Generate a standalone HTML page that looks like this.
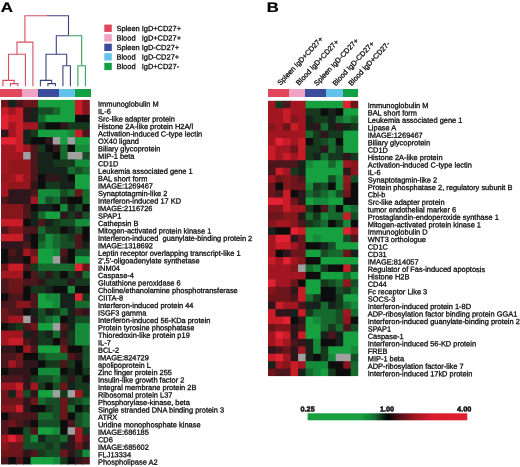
<!DOCTYPE html>
<html><head><meta charset="utf-8"><title>Figure</title>
<style>
html,body{margin:0;padding:0;background:#fff}
svg{display:block}
text{font-family:"Liberation Sans",sans-serif;text-rendering:geometricPrecision;fill:#0a0a0a;stroke:#0a0a0a;stroke-width:0.28px}
.l{font-size:7.45px}
.g{font-size:7.45px}
.s{font-size:7.3px;font-weight:bold;stroke-width:0.45px}
.p{font-size:13.9px;font-weight:bold;fill:#000;stroke-width:0.2px}
</style></head><body>
<svg width="520" height="467" viewBox="0 0 520 467">
<defs><filter id="bl" x="-2%" y="-2%" width="104%" height="104%"><feGaussianBlur stdDeviation="0.55"/></filter>
<linearGradient id="sc" x1="0" x2="1" y1="0" y2="0"><stop offset="0" stop-color="#18a040"/><stop offset="0.33" stop-color="#18a040"/><stop offset="0.42" stop-color="#13702e"/><stop offset="0.47" stop-color="#0c2a14"/><stop offset="0.495" stop-color="#060606"/><stop offset="0.51" stop-color="#060606"/><stop offset="0.58" stop-color="#5a1018"/><stop offset="0.68" stop-color="#a01822"/><stop offset="0.78" stop-color="#d81c2c"/><stop offset="1" stop-color="#e02030"/></linearGradient></defs>
<rect width="520" height="467" fill="#fff"/>
<g filter="url(#bl)">
<g><rect x="1.00" y="99.90" width="8.40" height="8.44" fill="#6c141c"/><rect x="8.40" y="99.90" width="8.40" height="8.44" fill="#18241a"/><rect x="15.80" y="99.90" width="8.40" height="8.44" fill="#4c141a"/><rect x="23.20" y="99.90" width="15.80" height="8.44" fill="#6c141c"/><rect x="38.00" y="99.90" width="38.00" height="8.44" fill="#18a040"/><rect x="75.00" y="99.90" width="8.40" height="8.44" fill="#c81c28"/><rect x="82.40" y="99.90" width="7.40" height="8.44" fill="#84161e"/><rect x="1.00" y="107.34" width="8.40" height="8.44" fill="#c81c28"/><rect x="8.40" y="107.34" width="8.40" height="8.44" fill="#a21822"/><rect x="15.80" y="107.34" width="8.40" height="8.44" fill="#c81c28"/><rect x="23.20" y="107.34" width="8.40" height="8.44" fill="#2e181a"/><rect x="30.60" y="107.34" width="8.40" height="8.44" fill="#18241a"/><rect x="38.00" y="107.34" width="15.80" height="8.44" fill="#144e26"/><rect x="52.80" y="107.34" width="8.40" height="8.44" fill="#166a2e"/><rect x="60.20" y="107.34" width="15.80" height="8.44" fill="#18a040"/><rect x="75.00" y="107.34" width="8.40" height="8.44" fill="#c81c28"/><rect x="82.40" y="107.34" width="7.40" height="8.44" fill="#84161e"/><rect x="1.00" y="114.78" width="8.40" height="8.44" fill="#e02030"/><rect x="8.40" y="114.78" width="15.80" height="8.44" fill="#c81c28"/><rect x="23.20" y="114.78" width="8.40" height="8.44" fill="#2e181a"/><rect x="30.60" y="114.78" width="8.40" height="8.44" fill="#18241a"/><rect x="38.00" y="114.78" width="8.40" height="8.44" fill="#166a2e"/><rect x="45.40" y="114.78" width="30.60" height="8.44" fill="#18a040"/><rect x="75.00" y="114.78" width="14.80" height="8.44" fill="#101010"/><rect x="1.00" y="122.22" width="8.40" height="8.44" fill="#e02030"/><rect x="8.40" y="122.22" width="8.40" height="8.44" fill="#a21822"/><rect x="15.80" y="122.22" width="8.40" height="8.44" fill="#c81c28"/><rect x="23.20" y="122.22" width="15.80" height="8.44" fill="#a21822"/><rect x="38.00" y="122.22" width="8.40" height="8.44" fill="#13391d"/><rect x="45.40" y="122.22" width="15.80" height="8.44" fill="#101010"/><rect x="60.20" y="122.22" width="8.40" height="8.44" fill="#2e181a"/><rect x="67.60" y="122.22" width="22.20" height="8.44" fill="#13391d"/><rect x="1.00" y="129.66" width="8.40" height="8.44" fill="#2e181a"/><rect x="8.40" y="129.66" width="8.40" height="8.44" fill="#a21822"/><rect x="15.80" y="129.66" width="8.40" height="8.44" fill="#c81c28"/><rect x="23.20" y="129.66" width="8.40" height="8.44" fill="#18241a"/><rect x="30.60" y="129.66" width="8.40" height="8.44" fill="#13391d"/><rect x="38.00" y="129.66" width="30.60" height="8.44" fill="#18a040"/><rect x="67.60" y="129.66" width="8.40" height="8.44" fill="#188a3a"/><rect x="75.00" y="129.66" width="8.40" height="8.44" fill="#c81c28"/><rect x="82.40" y="129.66" width="7.40" height="8.44" fill="#4c141a"/><rect x="1.00" y="137.10" width="15.80" height="8.44" fill="#e02030"/><rect x="15.80" y="137.10" width="8.40" height="8.44" fill="#c81c28"/><rect x="23.20" y="137.10" width="8.40" height="8.44" fill="#18241a"/><rect x="30.60" y="137.10" width="15.80" height="8.44" fill="#101010"/><rect x="45.40" y="137.10" width="8.40" height="8.44" fill="#2e181a"/><rect x="52.80" y="137.10" width="8.40" height="8.44" fill="#a0a0a0"/><rect x="60.20" y="137.10" width="8.40" height="8.44" fill="#18a040"/><rect x="67.60" y="137.10" width="8.40" height="8.44" fill="#a0a0a0"/><rect x="75.00" y="137.10" width="14.80" height="8.44" fill="#18a040"/><rect x="1.00" y="144.54" width="15.80" height="8.44" fill="#a21822"/><rect x="15.80" y="144.54" width="8.40" height="8.44" fill="#c81c28"/><rect x="23.20" y="144.54" width="8.40" height="8.44" fill="#a21822"/><rect x="30.60" y="144.54" width="8.40" height="8.44" fill="#4c141a"/><rect x="38.00" y="144.54" width="8.40" height="8.44" fill="#13391d"/><rect x="45.40" y="144.54" width="8.40" height="8.44" fill="#101010"/><rect x="52.80" y="144.54" width="8.40" height="8.44" fill="#2e181a"/><rect x="60.20" y="144.54" width="8.40" height="8.44" fill="#166a2e"/><rect x="67.60" y="144.54" width="8.40" height="8.44" fill="#101010"/><rect x="75.00" y="144.54" width="14.80" height="8.44" fill="#188a3a"/><rect x="1.00" y="151.98" width="23.20" height="8.44" fill="#a21822"/><rect x="23.20" y="151.98" width="8.40" height="8.44" fill="#a0a0a0"/><rect x="30.60" y="151.98" width="8.40" height="8.44" fill="#4c141a"/><rect x="38.00" y="151.98" width="15.80" height="8.44" fill="#18241a"/><rect x="52.80" y="151.98" width="8.40" height="8.44" fill="#101010"/><rect x="60.20" y="151.98" width="8.40" height="8.44" fill="#166a2e"/><rect x="67.60" y="151.98" width="15.80" height="8.44" fill="#a0a0a0"/><rect x="82.40" y="151.98" width="7.40" height="8.44" fill="#144e26"/><rect x="1.00" y="159.42" width="8.40" height="8.44" fill="#a21822"/><rect x="8.40" y="159.42" width="23.20" height="8.44" fill="#93171f"/><rect x="30.60" y="159.42" width="8.40" height="8.44" fill="#4c141a"/><rect x="38.00" y="159.42" width="15.80" height="8.44" fill="#18241a"/><rect x="52.80" y="159.42" width="23.20" height="8.44" fill="#13391d"/><rect x="75.00" y="159.42" width="14.80" height="8.44" fill="#188a3a"/><rect x="1.00" y="166.86" width="8.40" height="8.44" fill="#a21822"/><rect x="8.40" y="166.86" width="23.20" height="8.44" fill="#93171f"/><rect x="30.60" y="166.86" width="8.40" height="8.44" fill="#4c141a"/><rect x="38.00" y="166.86" width="30.60" height="8.44" fill="#18241a"/><rect x="67.60" y="166.86" width="8.40" height="8.44" fill="#166a2e"/><rect x="75.00" y="166.86" width="8.40" height="8.44" fill="#144e26"/><rect x="82.40" y="166.86" width="7.40" height="8.44" fill="#166a2e"/><rect x="1.00" y="174.30" width="8.40" height="8.44" fill="#93171f"/><rect x="8.40" y="174.30" width="8.40" height="8.44" fill="#a21822"/><rect x="15.80" y="174.30" width="8.40" height="8.44" fill="#c81c28"/><rect x="23.20" y="174.30" width="8.40" height="8.44" fill="#93171f"/><rect x="30.60" y="174.30" width="8.40" height="8.44" fill="#4c141a"/><rect x="38.00" y="174.30" width="8.40" height="8.44" fill="#101010"/><rect x="45.40" y="174.30" width="15.80" height="8.44" fill="#2e181a"/><rect x="60.20" y="174.30" width="8.40" height="8.44" fill="#18241a"/><rect x="67.60" y="174.30" width="8.40" height="8.44" fill="#101010"/><rect x="75.00" y="174.30" width="14.80" height="8.44" fill="#18a040"/><rect x="1.00" y="181.74" width="8.40" height="8.44" fill="#a21822"/><rect x="8.40" y="181.74" width="23.20" height="8.44" fill="#93171f"/><rect x="30.60" y="181.74" width="8.40" height="8.44" fill="#2e181a"/><rect x="38.00" y="181.74" width="8.40" height="8.44" fill="#101010"/><rect x="45.40" y="181.74" width="15.80" height="8.44" fill="#13391d"/><rect x="60.20" y="181.74" width="15.80" height="8.44" fill="#18241a"/><rect x="75.00" y="181.74" width="14.80" height="8.44" fill="#18a040"/><rect x="1.00" y="189.18" width="8.40" height="8.44" fill="#a21822"/><rect x="8.40" y="189.18" width="23.20" height="8.44" fill="#2e181a"/><rect x="30.60" y="189.18" width="8.40" height="8.44" fill="#4c141a"/><rect x="38.00" y="189.18" width="23.20" height="8.44" fill="#188a3a"/><rect x="60.20" y="189.18" width="8.40" height="8.44" fill="#144e26"/><rect x="67.60" y="189.18" width="8.40" height="8.44" fill="#166a2e"/><rect x="75.00" y="189.18" width="8.40" height="8.44" fill="#6c141c"/><rect x="82.40" y="189.18" width="7.40" height="8.44" fill="#166a2e"/><rect x="1.00" y="196.62" width="8.40" height="8.44" fill="#4c141a"/><rect x="8.40" y="196.62" width="23.20" height="8.44" fill="#2e181a"/><rect x="30.60" y="196.62" width="8.40" height="8.44" fill="#a21822"/><rect x="38.00" y="196.62" width="8.40" height="8.44" fill="#188a3a"/><rect x="45.40" y="196.62" width="8.40" height="8.44" fill="#144e26"/><rect x="52.80" y="196.62" width="8.40" height="8.44" fill="#166a2e"/><rect x="60.20" y="196.62" width="8.40" height="8.44" fill="#18241a"/><rect x="67.60" y="196.62" width="15.80" height="8.44" fill="#101010"/><rect x="82.40" y="196.62" width="7.40" height="8.44" fill="#166a2e"/><rect x="1.00" y="204.06" width="23.20" height="8.44" fill="#84161e"/><rect x="23.20" y="204.06" width="8.40" height="8.44" fill="#4c141a"/><rect x="30.60" y="204.06" width="8.40" height="8.44" fill="#101010"/><rect x="38.00" y="204.06" width="15.80" height="8.44" fill="#18241a"/><rect x="52.80" y="204.06" width="8.40" height="8.44" fill="#101010"/><rect x="60.20" y="204.06" width="8.40" height="8.44" fill="#188a3a"/><rect x="67.60" y="204.06" width="8.40" height="8.44" fill="#18241a"/><rect x="75.00" y="204.06" width="8.40" height="8.44" fill="#144e26"/><rect x="82.40" y="204.06" width="7.40" height="8.44" fill="#101010"/><rect x="1.00" y="211.50" width="23.20" height="8.44" fill="#84161e"/><rect x="23.20" y="211.50" width="8.40" height="8.44" fill="#4c141a"/><rect x="30.60" y="211.50" width="8.40" height="8.44" fill="#18241a"/><rect x="38.00" y="211.50" width="8.40" height="8.44" fill="#166a2e"/><rect x="45.40" y="211.50" width="15.80" height="8.44" fill="#18a040"/><rect x="60.20" y="211.50" width="8.40" height="8.44" fill="#2e181a"/><rect x="67.60" y="211.50" width="8.40" height="8.44" fill="#13391d"/><rect x="75.00" y="211.50" width="8.40" height="8.44" fill="#2e181a"/><rect x="82.40" y="211.50" width="7.40" height="8.44" fill="#144e26"/><rect x="1.00" y="218.94" width="23.20" height="8.44" fill="#c81c28"/><rect x="23.20" y="218.94" width="8.40" height="8.44" fill="#101010"/><rect x="30.60" y="218.94" width="8.40" height="8.44" fill="#18241a"/><rect x="38.00" y="218.94" width="8.40" height="8.44" fill="#4c141a"/><rect x="45.40" y="218.94" width="8.40" height="8.44" fill="#18241a"/><rect x="52.80" y="218.94" width="8.40" height="8.44" fill="#13391d"/><rect x="60.20" y="218.94" width="15.80" height="8.44" fill="#144e26"/><rect x="75.00" y="218.94" width="14.80" height="8.44" fill="#188a3a"/><rect x="1.00" y="226.38" width="8.40" height="8.44" fill="#4c141a"/><rect x="8.40" y="226.38" width="15.80" height="8.44" fill="#84161e"/><rect x="23.20" y="226.38" width="15.80" height="8.44" fill="#4c141a"/><rect x="38.00" y="226.38" width="8.40" height="8.44" fill="#166a2e"/><rect x="45.40" y="226.38" width="15.80" height="8.44" fill="#13391d"/><rect x="60.20" y="226.38" width="8.40" height="8.44" fill="#101010"/><rect x="67.60" y="226.38" width="8.40" height="8.44" fill="#18241a"/><rect x="75.00" y="226.38" width="8.40" height="8.44" fill="#144e26"/><rect x="82.40" y="226.38" width="7.40" height="8.44" fill="#101010"/><rect x="1.00" y="233.82" width="23.20" height="8.44" fill="#c81c28"/><rect x="23.20" y="233.82" width="8.40" height="8.44" fill="#2e181a"/><rect x="30.60" y="233.82" width="8.40" height="8.44" fill="#101010"/><rect x="38.00" y="233.82" width="8.40" height="8.44" fill="#144e26"/><rect x="45.40" y="233.82" width="8.40" height="8.44" fill="#188a3a"/><rect x="52.80" y="233.82" width="8.40" height="8.44" fill="#166a2e"/><rect x="60.20" y="233.82" width="8.40" height="8.44" fill="#144e26"/><rect x="67.60" y="233.82" width="8.40" height="8.44" fill="#13391d"/><rect x="75.00" y="233.82" width="8.40" height="8.44" fill="#4c141a"/><rect x="82.40" y="233.82" width="7.40" height="8.44" fill="#101010"/><rect x="1.00" y="241.26" width="23.20" height="8.44" fill="#2e181a"/><rect x="23.20" y="241.26" width="8.40" height="8.44" fill="#4c141a"/><rect x="30.60" y="241.26" width="8.40" height="8.44" fill="#101010"/><rect x="38.00" y="241.26" width="8.40" height="8.44" fill="#166a2e"/><rect x="45.40" y="241.26" width="8.40" height="8.44" fill="#188a3a"/><rect x="52.80" y="241.26" width="8.40" height="8.44" fill="#166a2e"/><rect x="60.20" y="241.26" width="15.80" height="8.44" fill="#144e26"/><rect x="75.00" y="241.26" width="8.40" height="8.44" fill="#4c141a"/><rect x="82.40" y="241.26" width="7.40" height="8.44" fill="#18241a"/><rect x="1.00" y="248.70" width="8.40" height="8.44" fill="#101010"/><rect x="8.40" y="248.70" width="8.40" height="8.44" fill="#4c141a"/><rect x="15.80" y="248.70" width="8.40" height="8.44" fill="#2e181a"/><rect x="23.20" y="248.70" width="8.40" height="8.44" fill="#a21822"/><rect x="30.60" y="248.70" width="8.40" height="8.44" fill="#6c141c"/><rect x="38.00" y="248.70" width="15.80" height="8.44" fill="#18a040"/><rect x="52.80" y="248.70" width="8.40" height="8.44" fill="#188a3a"/><rect x="60.20" y="248.70" width="8.40" height="8.44" fill="#4c141a"/><rect x="67.60" y="248.70" width="8.40" height="8.44" fill="#101010"/><rect x="75.00" y="248.70" width="14.80" height="8.44" fill="#144e26"/><rect x="1.00" y="256.14" width="8.40" height="8.44" fill="#101010"/><rect x="8.40" y="256.14" width="15.80" height="8.44" fill="#2e181a"/><rect x="23.20" y="256.14" width="8.40" height="8.44" fill="#101010"/><rect x="30.60" y="256.14" width="8.40" height="8.44" fill="#a21822"/><rect x="38.00" y="256.14" width="15.80" height="8.44" fill="#18a040"/><rect x="52.80" y="256.14" width="8.40" height="8.44" fill="#a0a0a0"/><rect x="60.20" y="256.14" width="8.40" height="8.44" fill="#2e181a"/><rect x="67.60" y="256.14" width="8.40" height="8.44" fill="#101010"/><rect x="75.00" y="256.14" width="14.80" height="8.44" fill="#18a040"/><rect x="1.00" y="263.58" width="8.40" height="8.44" fill="#6c141c"/><rect x="8.40" y="263.58" width="15.80" height="8.44" fill="#c81c28"/><rect x="23.20" y="263.58" width="8.40" height="8.44" fill="#4c141a"/><rect x="30.60" y="263.58" width="8.40" height="8.44" fill="#13391d"/><rect x="38.00" y="263.58" width="38.00" height="8.44" fill="#166a2e"/><rect x="75.00" y="263.58" width="8.40" height="8.44" fill="#e02030"/><rect x="82.40" y="263.58" width="7.40" height="8.44" fill="#6c141c"/><rect x="1.00" y="271.02" width="23.20" height="8.44" fill="#a21822"/><rect x="23.20" y="271.02" width="8.40" height="8.44" fill="#101010"/><rect x="30.60" y="271.02" width="8.40" height="8.44" fill="#4c141a"/><rect x="38.00" y="271.02" width="8.40" height="8.44" fill="#13391d"/><rect x="45.40" y="271.02" width="8.40" height="8.44" fill="#2e181a"/><rect x="52.80" y="271.02" width="8.40" height="8.44" fill="#13391d"/><rect x="60.20" y="271.02" width="8.40" height="8.44" fill="#101010"/><rect x="67.60" y="271.02" width="8.40" height="8.44" fill="#13391d"/><rect x="75.00" y="271.02" width="8.40" height="8.44" fill="#2e181a"/><rect x="82.40" y="271.02" width="7.40" height="8.44" fill="#166a2e"/><rect x="1.00" y="278.46" width="8.40" height="8.44" fill="#4c141a"/><rect x="8.40" y="278.46" width="15.80" height="8.44" fill="#6c141c"/><rect x="23.20" y="278.46" width="15.80" height="8.44" fill="#4c141a"/><rect x="38.00" y="278.46" width="8.40" height="8.44" fill="#2e181a"/><rect x="45.40" y="278.46" width="23.20" height="8.44" fill="#13391d"/><rect x="67.60" y="278.46" width="8.40" height="8.44" fill="#2e181a"/><rect x="75.00" y="278.46" width="14.80" height="8.44" fill="#13391d"/><rect x="1.00" y="285.90" width="8.40" height="8.44" fill="#4c141a"/><rect x="8.40" y="285.90" width="15.80" height="8.44" fill="#6c141c"/><rect x="23.20" y="285.90" width="8.40" height="8.44" fill="#101010"/><rect x="30.60" y="285.90" width="15.80" height="8.44" fill="#13391d"/><rect x="45.40" y="285.90" width="8.40" height="8.44" fill="#18241a"/><rect x="52.80" y="285.90" width="15.80" height="8.44" fill="#101010"/><rect x="67.60" y="285.90" width="8.40" height="8.44" fill="#188a3a"/><rect x="75.00" y="285.90" width="14.80" height="8.44" fill="#101010"/><rect x="1.00" y="293.34" width="8.40" height="8.44" fill="#101010"/><rect x="8.40" y="293.34" width="15.80" height="8.44" fill="#4c141a"/><rect x="23.20" y="293.34" width="8.40" height="8.44" fill="#101010"/><rect x="30.60" y="293.34" width="8.40" height="8.44" fill="#4c141a"/><rect x="38.00" y="293.34" width="8.40" height="8.44" fill="#18a040"/><rect x="45.40" y="293.34" width="15.80" height="8.44" fill="#188a3a"/><rect x="60.20" y="293.34" width="15.80" height="8.44" fill="#18241a"/><rect x="75.00" y="293.34" width="8.40" height="8.44" fill="#e02030"/><rect x="82.40" y="293.34" width="7.40" height="8.44" fill="#13391d"/><rect x="1.00" y="300.78" width="15.80" height="8.44" fill="#4c141a"/><rect x="15.80" y="300.78" width="15.80" height="8.44" fill="#84161e"/><rect x="30.60" y="300.78" width="8.40" height="8.44" fill="#4c141a"/><rect x="38.00" y="300.78" width="15.80" height="8.44" fill="#18a040"/><rect x="52.80" y="300.78" width="8.40" height="8.44" fill="#188a3a"/><rect x="60.20" y="300.78" width="15.80" height="8.44" fill="#18241a"/><rect x="75.00" y="300.78" width="14.80" height="8.44" fill="#166a2e"/><rect x="1.00" y="308.22" width="8.40" height="8.44" fill="#6c141c"/><rect x="8.40" y="308.22" width="15.80" height="8.44" fill="#4c141a"/><rect x="23.20" y="308.22" width="8.40" height="8.44" fill="#101010"/><rect x="30.60" y="308.22" width="8.40" height="8.44" fill="#18241a"/><rect x="38.00" y="308.22" width="8.40" height="8.44" fill="#144e26"/><rect x="45.40" y="308.22" width="8.40" height="8.44" fill="#18241a"/><rect x="52.80" y="308.22" width="8.40" height="8.44" fill="#13391d"/><rect x="60.20" y="308.22" width="8.40" height="8.44" fill="#166a2e"/><rect x="67.60" y="308.22" width="8.40" height="8.44" fill="#18241a"/><rect x="75.00" y="308.22" width="8.40" height="8.44" fill="#4c141a"/><rect x="82.40" y="308.22" width="7.40" height="8.44" fill="#2e181a"/><rect x="1.00" y="315.66" width="8.40" height="8.44" fill="#6c141c"/><rect x="8.40" y="315.66" width="15.80" height="8.44" fill="#a21822"/><rect x="23.20" y="315.66" width="8.40" height="8.44" fill="#a0a0a0"/><rect x="30.60" y="315.66" width="8.40" height="8.44" fill="#2e181a"/><rect x="38.00" y="315.66" width="8.40" height="8.44" fill="#144e26"/><rect x="45.40" y="315.66" width="8.40" height="8.44" fill="#166a2e"/><rect x="52.80" y="315.66" width="8.40" height="8.44" fill="#188a3a"/><rect x="60.20" y="315.66" width="8.40" height="8.44" fill="#101010"/><rect x="67.60" y="315.66" width="8.40" height="8.44" fill="#18241a"/><rect x="75.00" y="315.66" width="14.80" height="8.44" fill="#144e26"/><rect x="1.00" y="323.10" width="8.40" height="8.44" fill="#101010"/><rect x="8.40" y="323.10" width="8.40" height="8.44" fill="#18241a"/><rect x="15.80" y="323.10" width="8.40" height="8.44" fill="#13391d"/><rect x="23.20" y="323.10" width="8.40" height="8.44" fill="#4c141a"/><rect x="30.60" y="323.10" width="8.40" height="8.44" fill="#6c141c"/><rect x="38.00" y="323.10" width="15.80" height="8.44" fill="#18a040"/><rect x="52.80" y="323.10" width="8.40" height="8.44" fill="#a0a0a0"/><rect x="60.20" y="323.10" width="8.40" height="8.44" fill="#4c141a"/><rect x="67.60" y="323.10" width="8.40" height="8.44" fill="#18241a"/><rect x="75.00" y="323.10" width="14.80" height="8.44" fill="#188a3a"/><rect x="1.00" y="330.54" width="23.20" height="8.44" fill="#a21822"/><rect x="23.20" y="330.54" width="8.40" height="8.44" fill="#18241a"/><rect x="30.60" y="330.54" width="8.40" height="8.44" fill="#2e181a"/><rect x="38.00" y="330.54" width="8.40" height="8.44" fill="#13391d"/><rect x="45.40" y="330.54" width="8.40" height="8.44" fill="#18241a"/><rect x="52.80" y="330.54" width="8.40" height="8.44" fill="#166a2e"/><rect x="60.20" y="330.54" width="8.40" height="8.44" fill="#2e181a"/><rect x="67.60" y="330.54" width="8.40" height="8.44" fill="#13391d"/><rect x="75.00" y="330.54" width="14.80" height="8.44" fill="#188a3a"/><rect x="1.00" y="337.98" width="8.40" height="8.44" fill="#a21822"/><rect x="8.40" y="337.98" width="15.80" height="8.44" fill="#c81c28"/><rect x="23.20" y="337.98" width="8.40" height="8.44" fill="#4c141a"/><rect x="30.60" y="337.98" width="8.40" height="8.44" fill="#2e181a"/><rect x="38.00" y="337.98" width="15.80" height="8.44" fill="#13391d"/><rect x="52.80" y="337.98" width="8.40" height="8.44" fill="#101010"/><rect x="60.20" y="337.98" width="8.40" height="8.44" fill="#4c141a"/><rect x="67.60" y="337.98" width="8.40" height="8.44" fill="#13391d"/><rect x="75.00" y="337.98" width="14.80" height="8.44" fill="#188a3a"/><rect x="1.00" y="345.42" width="15.80" height="8.44" fill="#2e181a"/><rect x="15.80" y="345.42" width="8.40" height="8.44" fill="#101010"/><rect x="23.20" y="345.42" width="8.40" height="8.44" fill="#a21822"/><rect x="30.60" y="345.42" width="8.40" height="8.44" fill="#4c141a"/><rect x="38.00" y="345.42" width="23.20" height="8.44" fill="#18a040"/><rect x="60.20" y="345.42" width="8.40" height="8.44" fill="#6c141c"/><rect x="67.60" y="345.42" width="15.80" height="8.44" fill="#101010"/><rect x="82.40" y="345.42" width="7.40" height="8.44" fill="#144e26"/><rect x="1.00" y="352.86" width="15.80" height="8.44" fill="#4c141a"/><rect x="15.80" y="352.86" width="8.40" height="8.44" fill="#6c141c"/><rect x="23.20" y="352.86" width="15.80" height="8.44" fill="#101010"/><rect x="38.00" y="352.86" width="8.40" height="8.44" fill="#144e26"/><rect x="45.40" y="352.86" width="23.20" height="8.44" fill="#166a2e"/><rect x="67.60" y="352.86" width="8.40" height="8.44" fill="#4c141a"/><rect x="75.00" y="352.86" width="8.40" height="8.44" fill="#2e181a"/><rect x="82.40" y="352.86" width="7.40" height="8.44" fill="#144e26"/><rect x="1.00" y="360.30" width="8.40" height="8.44" fill="#4c141a"/><rect x="8.40" y="360.30" width="8.40" height="8.44" fill="#a21822"/><rect x="15.80" y="360.30" width="8.40" height="8.44" fill="#6c141c"/><rect x="23.20" y="360.30" width="15.80" height="8.44" fill="#2e181a"/><rect x="38.00" y="360.30" width="8.40" height="8.44" fill="#101010"/><rect x="45.40" y="360.30" width="15.80" height="8.44" fill="#13391d"/><rect x="60.20" y="360.30" width="8.40" height="8.44" fill="#4c141a"/><rect x="67.60" y="360.30" width="8.40" height="8.44" fill="#13391d"/><rect x="75.00" y="360.30" width="8.40" height="8.44" fill="#101010"/><rect x="82.40" y="360.30" width="7.40" height="8.44" fill="#144e26"/><rect x="1.00" y="367.74" width="8.40" height="8.44" fill="#101010"/><rect x="8.40" y="367.74" width="23.20" height="8.44" fill="#2e181a"/><rect x="30.60" y="367.74" width="8.40" height="8.44" fill="#101010"/><rect x="38.00" y="367.74" width="23.20" height="8.44" fill="#188a3a"/><rect x="60.20" y="367.74" width="8.40" height="8.44" fill="#101010"/><rect x="67.60" y="367.74" width="8.40" height="8.44" fill="#18241a"/><rect x="75.00" y="367.74" width="8.40" height="8.44" fill="#101010"/><rect x="82.40" y="367.74" width="7.40" height="8.44" fill="#13391d"/><rect x="1.00" y="375.18" width="23.20" height="8.44" fill="#4c141a"/><rect x="23.20" y="375.18" width="8.40" height="8.44" fill="#2e181a"/><rect x="30.60" y="375.18" width="8.40" height="8.44" fill="#13391d"/><rect x="38.00" y="375.18" width="15.80" height="8.44" fill="#144e26"/><rect x="52.80" y="375.18" width="8.40" height="8.44" fill="#166a2e"/><rect x="60.20" y="375.18" width="8.40" height="8.44" fill="#13391d"/><rect x="67.60" y="375.18" width="8.40" height="8.44" fill="#2e181a"/><rect x="75.00" y="375.18" width="8.40" height="8.44" fill="#13391d"/><rect x="82.40" y="375.18" width="7.40" height="8.44" fill="#101010"/><rect x="1.00" y="382.62" width="15.80" height="8.44" fill="#a21822"/><rect x="15.80" y="382.62" width="8.40" height="8.44" fill="#c81c28"/><rect x="23.20" y="382.62" width="8.40" height="8.44" fill="#2e181a"/><rect x="30.60" y="382.62" width="8.40" height="8.44" fill="#a21822"/><rect x="38.00" y="382.62" width="8.40" height="8.44" fill="#13391d"/><rect x="45.40" y="382.62" width="8.40" height="8.44" fill="#101010"/><rect x="52.80" y="382.62" width="8.40" height="8.44" fill="#144e26"/><rect x="60.20" y="382.62" width="8.40" height="8.44" fill="#6c141c"/><rect x="67.60" y="382.62" width="8.40" height="8.44" fill="#18241a"/><rect x="75.00" y="382.62" width="14.80" height="8.44" fill="#13391d"/><rect x="1.00" y="390.06" width="8.40" height="8.44" fill="#6c141c"/><rect x="8.40" y="390.06" width="8.40" height="8.44" fill="#18241a"/><rect x="15.80" y="390.06" width="8.40" height="8.44" fill="#a21822"/><rect x="23.20" y="390.06" width="8.40" height="8.44" fill="#144e26"/><rect x="30.60" y="390.06" width="8.40" height="8.44" fill="#2e181a"/><rect x="38.00" y="390.06" width="15.80" height="8.44" fill="#18a040"/><rect x="52.80" y="390.06" width="8.40" height="8.44" fill="#a0a0a0"/><rect x="60.20" y="390.06" width="8.40" height="8.44" fill="#13391d"/><rect x="67.60" y="390.06" width="8.40" height="8.44" fill="#a0a0a0"/><rect x="75.00" y="390.06" width="8.40" height="8.44" fill="#a21822"/><rect x="82.40" y="390.06" width="7.40" height="8.44" fill="#13391d"/><rect x="1.00" y="397.50" width="23.20" height="8.44" fill="#6c141c"/><rect x="23.20" y="397.50" width="8.40" height="8.44" fill="#2e181a"/><rect x="30.60" y="397.50" width="8.40" height="8.44" fill="#6c141c"/><rect x="38.00" y="397.50" width="8.40" height="8.44" fill="#166a2e"/><rect x="45.40" y="397.50" width="15.80" height="8.44" fill="#144e26"/><rect x="60.20" y="397.50" width="8.40" height="8.44" fill="#6c141c"/><rect x="67.60" y="397.50" width="8.40" height="8.44" fill="#13391d"/><rect x="75.00" y="397.50" width="8.40" height="8.44" fill="#144e26"/><rect x="82.40" y="397.50" width="7.40" height="8.44" fill="#166a2e"/><rect x="1.00" y="404.94" width="15.80" height="8.44" fill="#84161e"/><rect x="15.80" y="404.94" width="8.40" height="8.44" fill="#c81c28"/><rect x="23.20" y="404.94" width="8.40" height="8.44" fill="#2e181a"/><rect x="30.60" y="404.94" width="15.80" height="8.44" fill="#101010"/><rect x="45.40" y="404.94" width="8.40" height="8.44" fill="#13391d"/><rect x="52.80" y="404.94" width="8.40" height="8.44" fill="#144e26"/><rect x="60.20" y="404.94" width="8.40" height="8.44" fill="#6c141c"/><rect x="67.60" y="404.94" width="8.40" height="8.44" fill="#166a2e"/><rect x="75.00" y="404.94" width="8.40" height="8.44" fill="#101010"/><rect x="82.40" y="404.94" width="7.40" height="8.44" fill="#13391d"/><rect x="1.00" y="412.38" width="8.40" height="8.44" fill="#101010"/><rect x="8.40" y="412.38" width="30.60" height="8.44" fill="#4c141a"/><rect x="38.00" y="412.38" width="15.80" height="8.44" fill="#166a2e"/><rect x="52.80" y="412.38" width="8.40" height="8.44" fill="#144e26"/><rect x="60.20" y="412.38" width="8.40" height="8.44" fill="#6c141c"/><rect x="67.60" y="412.38" width="8.40" height="8.44" fill="#101010"/><rect x="75.00" y="412.38" width="8.40" height="8.44" fill="#144e26"/><rect x="82.40" y="412.38" width="7.40" height="8.44" fill="#166a2e"/><rect x="1.00" y="419.82" width="8.40" height="8.44" fill="#4c141a"/><rect x="8.40" y="419.82" width="8.40" height="8.44" fill="#6c141c"/><rect x="15.80" y="419.82" width="8.40" height="8.44" fill="#4c141a"/><rect x="23.20" y="419.82" width="8.40" height="8.44" fill="#2e181a"/><rect x="30.60" y="419.82" width="8.40" height="8.44" fill="#101010"/><rect x="38.00" y="419.82" width="23.20" height="8.44" fill="#144e26"/><rect x="60.20" y="419.82" width="8.40" height="8.44" fill="#101010"/><rect x="67.60" y="419.82" width="8.40" height="8.44" fill="#4c141a"/><rect x="75.00" y="419.82" width="8.40" height="8.44" fill="#144e26"/><rect x="82.40" y="419.82" width="7.40" height="8.44" fill="#166a2e"/><rect x="1.00" y="427.26" width="8.40" height="8.44" fill="#4c141a"/><rect x="8.40" y="427.26" width="15.80" height="8.44" fill="#101010"/><rect x="23.20" y="427.26" width="8.40" height="8.44" fill="#144e26"/><rect x="30.60" y="427.26" width="8.40" height="8.44" fill="#4c141a"/><rect x="38.00" y="427.26" width="15.80" height="8.44" fill="#18a040"/><rect x="52.80" y="427.26" width="8.40" height="8.44" fill="#188a3a"/><rect x="60.20" y="427.26" width="8.40" height="8.44" fill="#101010"/><rect x="67.60" y="427.26" width="8.40" height="8.44" fill="#a0a0a0"/><rect x="75.00" y="427.26" width="8.40" height="8.44" fill="#a21822"/><rect x="82.40" y="427.26" width="7.40" height="8.44" fill="#13391d"/><rect x="1.00" y="434.70" width="8.40" height="8.44" fill="#a21822"/><rect x="8.40" y="434.70" width="8.40" height="8.44" fill="#e02030"/><rect x="15.80" y="434.70" width="8.40" height="8.44" fill="#a21822"/><rect x="23.20" y="434.70" width="8.40" height="8.44" fill="#144e26"/><rect x="30.60" y="434.70" width="8.40" height="8.44" fill="#188a3a"/><rect x="38.00" y="434.70" width="8.40" height="8.44" fill="#18241a"/><rect x="45.40" y="434.70" width="15.80" height="8.44" fill="#144e26"/><rect x="60.20" y="434.70" width="8.40" height="8.44" fill="#166a2e"/><rect x="67.60" y="434.70" width="8.40" height="8.44" fill="#2e181a"/><rect x="75.00" y="434.70" width="8.40" height="8.44" fill="#a21822"/><rect x="82.40" y="434.70" width="7.40" height="8.44" fill="#4c141a"/><rect x="1.00" y="442.14" width="8.40" height="8.44" fill="#84161e"/><rect x="8.40" y="442.14" width="15.80" height="8.44" fill="#6c141c"/><rect x="23.20" y="442.14" width="23.20" height="8.44" fill="#144e26"/><rect x="45.40" y="442.14" width="8.40" height="8.44" fill="#13391d"/><rect x="52.80" y="442.14" width="8.40" height="8.44" fill="#144e26"/><rect x="60.20" y="442.14" width="8.40" height="8.44" fill="#18241a"/><rect x="67.60" y="442.14" width="8.40" height="8.44" fill="#2e181a"/><rect x="75.00" y="442.14" width="8.40" height="8.44" fill="#6c141c"/><rect x="82.40" y="442.14" width="7.40" height="8.44" fill="#2e181a"/><rect x="1.00" y="449.58" width="23.20" height="8.44" fill="#6c141c"/><rect x="23.20" y="449.58" width="8.40" height="8.44" fill="#2e181a"/><rect x="30.60" y="449.58" width="8.40" height="8.44" fill="#4c141a"/><rect x="38.00" y="449.58" width="8.40" height="8.44" fill="#13391d"/><rect x="45.40" y="449.58" width="15.80" height="8.44" fill="#144e26"/><rect x="60.20" y="449.58" width="8.40" height="8.44" fill="#6c141c"/><rect x="67.60" y="449.58" width="8.40" height="8.44" fill="#2e181a"/><rect x="75.00" y="449.58" width="8.40" height="8.44" fill="#13391d"/><rect x="82.40" y="449.58" width="7.40" height="8.44" fill="#188a3a"/><rect x="1.00" y="457.02" width="8.40" height="7.44" fill="#4c141a"/><rect x="8.40" y="457.02" width="8.40" height="7.44" fill="#101010"/><rect x="15.80" y="457.02" width="8.40" height="7.44" fill="#4c141a"/><rect x="23.20" y="457.02" width="8.40" height="7.44" fill="#101010"/><rect x="30.60" y="457.02" width="23.20" height="7.44" fill="#18a040"/><rect x="52.80" y="457.02" width="8.40" height="7.44" fill="#188a3a"/><rect x="60.20" y="457.02" width="8.40" height="7.44" fill="#13391d"/><rect x="67.60" y="457.02" width="8.40" height="7.44" fill="#101010"/><rect x="75.00" y="457.02" width="8.40" height="7.44" fill="#2e181a"/><rect x="82.40" y="457.02" width="7.40" height="7.44" fill="#4c141a"/></g>
<g><rect x="268.00" y="100.80" width="8.52" height="8.44" fill="#a21822"/><rect x="275.52" y="100.80" width="8.52" height="8.44" fill="#13391d"/><rect x="283.04" y="100.80" width="8.52" height="8.44" fill="#4c141a"/><rect x="290.56" y="100.80" width="16.04" height="8.44" fill="#a21822"/><rect x="305.60" y="100.80" width="38.60" height="8.44" fill="#18a040"/><rect x="343.20" y="100.80" width="8.52" height="8.44" fill="#e02030"/><rect x="350.72" y="100.80" width="7.52" height="8.44" fill="#6c141c"/><rect x="268.00" y="108.24" width="16.04" height="8.44" fill="#a21822"/><rect x="283.04" y="108.24" width="8.52" height="8.44" fill="#c81c28"/><rect x="290.56" y="108.24" width="16.04" height="8.44" fill="#a21822"/><rect x="305.60" y="108.24" width="16.04" height="8.44" fill="#13391d"/><rect x="320.64" y="108.24" width="8.52" height="8.44" fill="#101010"/><rect x="328.16" y="108.24" width="8.52" height="8.44" fill="#18241a"/><rect x="335.68" y="108.24" width="8.52" height="8.44" fill="#101010"/><rect x="343.20" y="108.24" width="15.04" height="8.44" fill="#18a040"/><rect x="268.00" y="115.68" width="16.04" height="8.44" fill="#a21822"/><rect x="283.04" y="115.68" width="8.52" height="8.44" fill="#c81c28"/><rect x="290.56" y="115.68" width="8.52" height="8.44" fill="#84161e"/><rect x="298.08" y="115.68" width="8.52" height="8.44" fill="#a21822"/><rect x="305.60" y="115.68" width="8.52" height="8.44" fill="#18241a"/><rect x="313.12" y="115.68" width="16.04" height="8.44" fill="#13391d"/><rect x="328.16" y="115.68" width="8.52" height="8.44" fill="#18241a"/><rect x="335.68" y="115.68" width="8.52" height="8.44" fill="#166a2e"/><rect x="343.20" y="115.68" width="8.52" height="8.44" fill="#188a3a"/><rect x="350.72" y="115.68" width="7.52" height="8.44" fill="#166a2e"/><rect x="268.00" y="123.12" width="8.52" height="8.44" fill="#84161e"/><rect x="275.52" y="123.12" width="8.52" height="8.44" fill="#a21822"/><rect x="283.04" y="123.12" width="8.52" height="8.44" fill="#6c141c"/><rect x="290.56" y="123.12" width="8.52" height="8.44" fill="#c81c28"/><rect x="298.08" y="123.12" width="8.52" height="8.44" fill="#a21822"/><rect x="305.60" y="123.12" width="8.52" height="8.44" fill="#18241a"/><rect x="313.12" y="123.12" width="8.52" height="8.44" fill="#2e181a"/><rect x="320.64" y="123.12" width="8.52" height="8.44" fill="#166a2e"/><rect x="328.16" y="123.12" width="8.52" height="8.44" fill="#18241a"/><rect x="335.68" y="123.12" width="8.52" height="8.44" fill="#2e181a"/><rect x="343.20" y="123.12" width="8.52" height="8.44" fill="#18241a"/><rect x="350.72" y="123.12" width="7.52" height="8.44" fill="#13391d"/><rect x="268.00" y="130.56" width="38.60" height="8.44" fill="#a21822"/><rect x="305.60" y="130.56" width="8.52" height="8.44" fill="#166a2e"/><rect x="313.12" y="130.56" width="8.52" height="8.44" fill="#13391d"/><rect x="320.64" y="130.56" width="8.52" height="8.44" fill="#2e181a"/><rect x="328.16" y="130.56" width="16.04" height="8.44" fill="#13391d"/><rect x="343.20" y="130.56" width="15.04" height="8.44" fill="#18a040"/><rect x="268.00" y="138.00" width="8.52" height="8.44" fill="#a21822"/><rect x="275.52" y="138.00" width="8.52" height="8.44" fill="#e02030"/><rect x="283.04" y="138.00" width="8.52" height="8.44" fill="#c81c28"/><rect x="290.56" y="138.00" width="8.52" height="8.44" fill="#a21822"/><rect x="298.08" y="138.00" width="8.52" height="8.44" fill="#c81c28"/><rect x="305.60" y="138.00" width="8.52" height="8.44" fill="#101010"/><rect x="313.12" y="138.00" width="8.52" height="8.44" fill="#13391d"/><rect x="320.64" y="138.00" width="8.52" height="8.44" fill="#144e26"/><rect x="328.16" y="138.00" width="8.52" height="8.44" fill="#166a2e"/><rect x="335.68" y="138.00" width="8.52" height="8.44" fill="#101010"/><rect x="343.20" y="138.00" width="15.04" height="8.44" fill="#18a040"/><rect x="268.00" y="145.44" width="8.52" height="8.44" fill="#c81c28"/><rect x="275.52" y="145.44" width="16.04" height="8.44" fill="#a21822"/><rect x="290.56" y="145.44" width="8.52" height="8.44" fill="#6c141c"/><rect x="298.08" y="145.44" width="8.52" height="8.44" fill="#c81c28"/><rect x="305.60" y="145.44" width="16.04" height="8.44" fill="#13391d"/><rect x="320.64" y="145.44" width="8.52" height="8.44" fill="#2e181a"/><rect x="328.16" y="145.44" width="8.52" height="8.44" fill="#166a2e"/><rect x="335.68" y="145.44" width="8.52" height="8.44" fill="#13391d"/><rect x="343.20" y="145.44" width="15.04" height="8.44" fill="#18a040"/><rect x="268.00" y="152.88" width="8.52" height="8.44" fill="#c81c28"/><rect x="275.52" y="152.88" width="8.52" height="8.44" fill="#a21822"/><rect x="283.04" y="152.88" width="8.52" height="8.44" fill="#c81c28"/><rect x="290.56" y="152.88" width="8.52" height="8.44" fill="#a21822"/><rect x="298.08" y="152.88" width="8.52" height="8.44" fill="#c81c28"/><rect x="305.60" y="152.88" width="8.52" height="8.44" fill="#13391d"/><rect x="313.12" y="152.88" width="8.52" height="8.44" fill="#18241a"/><rect x="320.64" y="152.88" width="8.52" height="8.44" fill="#166a2e"/><rect x="328.16" y="152.88" width="16.04" height="8.44" fill="#13391d"/><rect x="343.20" y="152.88" width="8.52" height="8.44" fill="#2e181a"/><rect x="350.72" y="152.88" width="7.52" height="8.44" fill="#13391d"/><rect x="268.00" y="160.32" width="31.08" height="8.44" fill="#4c141a"/><rect x="298.08" y="160.32" width="8.52" height="8.44" fill="#18241a"/><rect x="305.60" y="160.32" width="8.52" height="8.44" fill="#188a3a"/><rect x="313.12" y="160.32" width="16.04" height="8.44" fill="#18a040"/><rect x="328.16" y="160.32" width="8.52" height="8.44" fill="#166a2e"/><rect x="335.68" y="160.32" width="8.52" height="8.44" fill="#18a040"/><rect x="343.20" y="160.32" width="8.52" height="8.44" fill="#a21822"/><rect x="350.72" y="160.32" width="7.52" height="8.44" fill="#84161e"/><rect x="268.00" y="167.76" width="8.52" height="8.44" fill="#4c141a"/><rect x="275.52" y="167.76" width="8.52" height="8.44" fill="#c81c28"/><rect x="283.04" y="167.76" width="8.52" height="8.44" fill="#a21822"/><rect x="290.56" y="167.76" width="8.52" height="8.44" fill="#13391d"/><rect x="298.08" y="167.76" width="8.52" height="8.44" fill="#18241a"/><rect x="305.60" y="167.76" width="38.60" height="8.44" fill="#18a040"/><rect x="343.20" y="167.76" width="8.52" height="8.44" fill="#2e181a"/><rect x="350.72" y="167.76" width="7.52" height="8.44" fill="#84161e"/><rect x="268.00" y="175.20" width="8.52" height="8.44" fill="#a21822"/><rect x="275.52" y="175.20" width="8.52" height="8.44" fill="#6c141c"/><rect x="283.04" y="175.20" width="8.52" height="8.44" fill="#84161e"/><rect x="290.56" y="175.20" width="8.52" height="8.44" fill="#6c141c"/><rect x="298.08" y="175.20" width="8.52" height="8.44" fill="#4c141a"/><rect x="305.60" y="175.20" width="23.56" height="8.44" fill="#18a040"/><rect x="328.16" y="175.20" width="8.52" height="8.44" fill="#144e26"/><rect x="335.68" y="175.20" width="8.52" height="8.44" fill="#188a3a"/><rect x="343.20" y="175.20" width="8.52" height="8.44" fill="#93171f"/><rect x="350.72" y="175.20" width="7.52" height="8.44" fill="#144e26"/><rect x="268.00" y="182.64" width="8.52" height="8.44" fill="#6c141c"/><rect x="275.52" y="182.64" width="8.52" height="8.44" fill="#101010"/><rect x="283.04" y="182.64" width="8.52" height="8.44" fill="#84161e"/><rect x="290.56" y="182.64" width="16.04" height="8.44" fill="#6c141c"/><rect x="305.60" y="182.64" width="8.52" height="8.44" fill="#188a3a"/><rect x="313.12" y="182.64" width="8.52" height="8.44" fill="#13391d"/><rect x="320.64" y="182.64" width="8.52" height="8.44" fill="#144e26"/><rect x="328.16" y="182.64" width="8.52" height="8.44" fill="#101010"/><rect x="335.68" y="182.64" width="8.52" height="8.44" fill="#188a3a"/><rect x="343.20" y="182.64" width="8.52" height="8.44" fill="#84161e"/><rect x="350.72" y="182.64" width="7.52" height="8.44" fill="#101010"/><rect x="268.00" y="190.08" width="8.52" height="8.44" fill="#6c141c"/><rect x="275.52" y="190.08" width="8.52" height="8.44" fill="#4c141a"/><rect x="283.04" y="190.08" width="8.52" height="8.44" fill="#c81c28"/><rect x="290.56" y="190.08" width="8.52" height="8.44" fill="#101010"/><rect x="298.08" y="190.08" width="8.52" height="8.44" fill="#2e181a"/><rect x="305.60" y="190.08" width="8.52" height="8.44" fill="#166a2e"/><rect x="313.12" y="190.08" width="8.52" height="8.44" fill="#144e26"/><rect x="320.64" y="190.08" width="8.52" height="8.44" fill="#166a2e"/><rect x="328.16" y="190.08" width="8.52" height="8.44" fill="#188a3a"/><rect x="335.68" y="190.08" width="8.52" height="8.44" fill="#144e26"/><rect x="343.20" y="190.08" width="8.52" height="8.44" fill="#6c141c"/><rect x="350.72" y="190.08" width="7.52" height="8.44" fill="#101010"/><rect x="268.00" y="197.52" width="16.04" height="8.44" fill="#e02030"/><rect x="283.04" y="197.52" width="8.52" height="8.44" fill="#c81c28"/><rect x="290.56" y="197.52" width="8.52" height="8.44" fill="#6c141c"/><rect x="298.08" y="197.52" width="8.52" height="8.44" fill="#2e181a"/><rect x="305.60" y="197.52" width="8.52" height="8.44" fill="#18a040"/><rect x="313.12" y="197.52" width="16.04" height="8.44" fill="#188a3a"/><rect x="328.16" y="197.52" width="16.04" height="8.44" fill="#18a040"/><rect x="343.20" y="197.52" width="15.04" height="8.44" fill="#101010"/><rect x="268.00" y="204.96" width="16.04" height="8.44" fill="#84161e"/><rect x="283.04" y="204.96" width="8.52" height="8.44" fill="#c81c28"/><rect x="290.56" y="204.96" width="16.04" height="8.44" fill="#a21822"/><rect x="305.60" y="204.96" width="8.52" height="8.44" fill="#13391d"/><rect x="313.12" y="204.96" width="8.52" height="8.44" fill="#101010"/><rect x="320.64" y="204.96" width="8.52" height="8.44" fill="#4c141a"/><rect x="328.16" y="204.96" width="8.52" height="8.44" fill="#166a2e"/><rect x="335.68" y="204.96" width="8.52" height="8.44" fill="#101010"/><rect x="343.20" y="204.96" width="8.52" height="8.44" fill="#188a3a"/><rect x="350.72" y="204.96" width="7.52" height="8.44" fill="#166a2e"/><rect x="268.00" y="212.40" width="16.04" height="8.44" fill="#6c141c"/><rect x="283.04" y="212.40" width="16.04" height="8.44" fill="#84161e"/><rect x="298.08" y="212.40" width="8.52" height="8.44" fill="#2e181a"/><rect x="305.60" y="212.40" width="8.52" height="8.44" fill="#166a2e"/><rect x="313.12" y="212.40" width="8.52" height="8.44" fill="#13391d"/><rect x="320.64" y="212.40" width="8.52" height="8.44" fill="#188a3a"/><rect x="328.16" y="212.40" width="16.04" height="8.44" fill="#166a2e"/><rect x="343.20" y="212.40" width="8.52" height="8.44" fill="#c81c28"/><rect x="350.72" y="212.40" width="7.52" height="8.44" fill="#144e26"/><rect x="268.00" y="219.84" width="8.52" height="8.44" fill="#84161e"/><rect x="275.52" y="219.84" width="16.04" height="8.44" fill="#a21822"/><rect x="290.56" y="219.84" width="8.52" height="8.44" fill="#84161e"/><rect x="298.08" y="219.84" width="8.52" height="8.44" fill="#4c141a"/><rect x="305.60" y="219.84" width="8.52" height="8.44" fill="#13391d"/><rect x="313.12" y="219.84" width="8.52" height="8.44" fill="#144e26"/><rect x="320.64" y="219.84" width="8.52" height="8.44" fill="#166a2e"/><rect x="328.16" y="219.84" width="8.52" height="8.44" fill="#101010"/><rect x="335.68" y="219.84" width="8.52" height="8.44" fill="#13391d"/><rect x="343.20" y="219.84" width="8.52" height="8.44" fill="#188a3a"/><rect x="350.72" y="219.84" width="7.52" height="8.44" fill="#101010"/><rect x="268.00" y="227.28" width="8.52" height="8.44" fill="#18241a"/><rect x="275.52" y="227.28" width="16.04" height="8.44" fill="#101010"/><rect x="290.56" y="227.28" width="8.52" height="8.44" fill="#e02030"/><rect x="298.08" y="227.28" width="8.52" height="8.44" fill="#c81c28"/><rect x="305.60" y="227.28" width="38.60" height="8.44" fill="#18a040"/><rect x="343.20" y="227.28" width="8.52" height="8.44" fill="#e02030"/><rect x="350.72" y="227.28" width="7.52" height="8.44" fill="#a21822"/><rect x="268.00" y="234.72" width="8.52" height="8.44" fill="#a21822"/><rect x="275.52" y="234.72" width="16.04" height="8.44" fill="#e02030"/><rect x="290.56" y="234.72" width="8.52" height="8.44" fill="#2e181a"/><rect x="298.08" y="234.72" width="8.52" height="8.44" fill="#6c141c"/><rect x="305.60" y="234.72" width="8.52" height="8.44" fill="#18a040"/><rect x="313.12" y="234.72" width="8.52" height="8.44" fill="#188a3a"/><rect x="320.64" y="234.72" width="23.56" height="8.44" fill="#18a040"/><rect x="343.20" y="234.72" width="8.52" height="8.44" fill="#144e26"/><rect x="350.72" y="234.72" width="7.52" height="8.44" fill="#4c141a"/><rect x="268.00" y="242.16" width="8.52" height="8.44" fill="#a21822"/><rect x="275.52" y="242.16" width="16.04" height="8.44" fill="#c81c28"/><rect x="290.56" y="242.16" width="8.52" height="8.44" fill="#a21822"/><rect x="298.08" y="242.16" width="8.52" height="8.44" fill="#6c141c"/><rect x="305.60" y="242.16" width="16.04" height="8.44" fill="#101010"/><rect x="320.64" y="242.16" width="8.52" height="8.44" fill="#18241a"/><rect x="328.16" y="242.16" width="8.52" height="8.44" fill="#144e26"/><rect x="335.68" y="242.16" width="22.56" height="8.44" fill="#18a040"/><rect x="268.00" y="249.60" width="8.52" height="8.44" fill="#a21822"/><rect x="275.52" y="249.60" width="8.52" height="8.44" fill="#101010"/><rect x="283.04" y="249.60" width="8.52" height="8.44" fill="#2e181a"/><rect x="290.56" y="249.60" width="16.04" height="8.44" fill="#6c141c"/><rect x="305.60" y="249.60" width="16.04" height="8.44" fill="#18a040"/><rect x="320.64" y="249.60" width="8.52" height="8.44" fill="#144e26"/><rect x="328.16" y="249.60" width="16.04" height="8.44" fill="#166a2e"/><rect x="343.20" y="249.60" width="8.52" height="8.44" fill="#6c141c"/><rect x="350.72" y="249.60" width="7.52" height="8.44" fill="#18241a"/><rect x="268.00" y="257.04" width="8.52" height="8.44" fill="#c81c28"/><rect x="275.52" y="257.04" width="8.52" height="8.44" fill="#a21822"/><rect x="283.04" y="257.04" width="8.52" height="8.44" fill="#e02030"/><rect x="290.56" y="257.04" width="8.52" height="8.44" fill="#a21822"/><rect x="298.08" y="257.04" width="8.52" height="8.44" fill="#84161e"/><rect x="305.60" y="257.04" width="16.04" height="8.44" fill="#101010"/><rect x="320.64" y="257.04" width="37.60" height="8.44" fill="#18a040"/><rect x="268.00" y="264.48" width="23.56" height="8.44" fill="#a21822"/><rect x="290.56" y="264.48" width="8.52" height="8.44" fill="#84161e"/><rect x="298.08" y="264.48" width="8.52" height="8.44" fill="#a0a0a0"/><rect x="305.60" y="264.48" width="8.52" height="8.44" fill="#166a2e"/><rect x="313.12" y="264.48" width="8.52" height="8.44" fill="#188a3a"/><rect x="320.64" y="264.48" width="8.52" height="8.44" fill="#13391d"/><rect x="328.16" y="264.48" width="16.04" height="8.44" fill="#101010"/><rect x="343.20" y="264.48" width="8.52" height="8.44" fill="#c81c28"/><rect x="350.72" y="264.48" width="7.52" height="8.44" fill="#13391d"/><rect x="268.00" y="271.92" width="38.60" height="8.44" fill="#a21822"/><rect x="305.60" y="271.92" width="16.04" height="8.44" fill="#101010"/><rect x="320.64" y="271.92" width="23.56" height="8.44" fill="#18a040"/><rect x="343.20" y="271.92" width="8.52" height="8.44" fill="#166a2e"/><rect x="350.72" y="271.92" width="7.52" height="8.44" fill="#18a040"/><rect x="268.00" y="279.36" width="8.52" height="8.44" fill="#e02030"/><rect x="275.52" y="279.36" width="16.04" height="8.44" fill="#a21822"/><rect x="290.56" y="279.36" width="8.52" height="8.44" fill="#6c141c"/><rect x="298.08" y="279.36" width="8.52" height="8.44" fill="#101010"/><rect x="305.60" y="279.36" width="16.04" height="8.44" fill="#18a040"/><rect x="320.64" y="279.36" width="8.52" height="8.44" fill="#13391d"/><rect x="328.16" y="279.36" width="8.52" height="8.44" fill="#144e26"/><rect x="335.68" y="279.36" width="8.52" height="8.44" fill="#166a2e"/><rect x="343.20" y="279.36" width="8.52" height="8.44" fill="#93171f"/><rect x="350.72" y="279.36" width="7.52" height="8.44" fill="#144e26"/><rect x="268.00" y="286.80" width="8.52" height="8.44" fill="#84161e"/><rect x="275.52" y="286.80" width="16.04" height="8.44" fill="#6c141c"/><rect x="290.56" y="286.80" width="8.52" height="8.44" fill="#2e181a"/><rect x="298.08" y="286.80" width="8.52" height="8.44" fill="#c81c28"/><rect x="305.60" y="286.80" width="16.04" height="8.44" fill="#18a040"/><rect x="320.64" y="286.80" width="16.04" height="8.44" fill="#101010"/><rect x="335.68" y="286.80" width="8.52" height="8.44" fill="#144e26"/><rect x="343.20" y="286.80" width="8.52" height="8.44" fill="#13391d"/><rect x="350.72" y="286.80" width="7.52" height="8.44" fill="#166a2e"/><rect x="268.00" y="294.24" width="23.56" height="8.44" fill="#6c141c"/><rect x="290.56" y="294.24" width="8.52" height="8.44" fill="#4c141a"/><rect x="298.08" y="294.24" width="8.52" height="8.44" fill="#c81c28"/><rect x="305.60" y="294.24" width="8.52" height="8.44" fill="#166a2e"/><rect x="313.12" y="294.24" width="8.52" height="8.44" fill="#13391d"/><rect x="320.64" y="294.24" width="16.04" height="8.44" fill="#101010"/><rect x="335.68" y="294.24" width="8.52" height="8.44" fill="#13391d"/><rect x="343.20" y="294.24" width="15.04" height="8.44" fill="#18a040"/><rect x="268.00" y="301.68" width="8.52" height="8.44" fill="#2e181a"/><rect x="275.52" y="301.68" width="8.52" height="8.44" fill="#c81c28"/><rect x="283.04" y="301.68" width="16.04" height="8.44" fill="#a21822"/><rect x="298.08" y="301.68" width="8.52" height="8.44" fill="#4c141a"/><rect x="305.60" y="301.68" width="16.04" height="8.44" fill="#18241a"/><rect x="320.64" y="301.68" width="8.52" height="8.44" fill="#166a2e"/><rect x="328.16" y="301.68" width="8.52" height="8.44" fill="#18241a"/><rect x="335.68" y="301.68" width="8.52" height="8.44" fill="#13391d"/><rect x="343.20" y="301.68" width="8.52" height="8.44" fill="#166a2e"/><rect x="350.72" y="301.68" width="7.52" height="8.44" fill="#188a3a"/><rect x="268.00" y="309.12" width="8.52" height="8.44" fill="#c81c28"/><rect x="275.52" y="309.12" width="16.04" height="8.44" fill="#2e181a"/><rect x="290.56" y="309.12" width="8.52" height="8.44" fill="#18241a"/><rect x="298.08" y="309.12" width="8.52" height="8.44" fill="#c81c28"/><rect x="305.60" y="309.12" width="8.52" height="8.44" fill="#13391d"/><rect x="313.12" y="309.12" width="23.56" height="8.44" fill="#166a2e"/><rect x="335.68" y="309.12" width="8.52" height="8.44" fill="#144e26"/><rect x="343.20" y="309.12" width="8.52" height="8.44" fill="#a21822"/><rect x="350.72" y="309.12" width="7.52" height="8.44" fill="#166a2e"/><rect x="268.00" y="316.56" width="16.04" height="8.44" fill="#c81c28"/><rect x="283.04" y="316.56" width="8.52" height="8.44" fill="#e02030"/><rect x="290.56" y="316.56" width="8.52" height="8.44" fill="#101010"/><rect x="298.08" y="316.56" width="8.52" height="8.44" fill="#2e181a"/><rect x="305.60" y="316.56" width="8.52" height="8.44" fill="#18a040"/><rect x="313.12" y="316.56" width="8.52" height="8.44" fill="#188a3a"/><rect x="320.64" y="316.56" width="16.04" height="8.44" fill="#166a2e"/><rect x="335.68" y="316.56" width="8.52" height="8.44" fill="#144e26"/><rect x="343.20" y="316.56" width="8.52" height="8.44" fill="#93171f"/><rect x="350.72" y="316.56" width="7.52" height="8.44" fill="#101010"/><rect x="268.00" y="324.00" width="8.52" height="8.44" fill="#6c141c"/><rect x="275.52" y="324.00" width="16.04" height="8.44" fill="#84161e"/><rect x="290.56" y="324.00" width="8.52" height="8.44" fill="#2e181a"/><rect x="298.08" y="324.00" width="8.52" height="8.44" fill="#4c141a"/><rect x="305.60" y="324.00" width="16.04" height="8.44" fill="#18a040"/><rect x="320.64" y="324.00" width="8.52" height="8.44" fill="#166a2e"/><rect x="328.16" y="324.00" width="8.52" height="8.44" fill="#13391d"/><rect x="335.68" y="324.00" width="8.52" height="8.44" fill="#166a2e"/><rect x="343.20" y="324.00" width="8.52" height="8.44" fill="#4c141a"/><rect x="350.72" y="324.00" width="7.52" height="8.44" fill="#144e26"/><rect x="268.00" y="331.44" width="8.52" height="8.44" fill="#a21822"/><rect x="275.52" y="331.44" width="8.52" height="8.44" fill="#e02030"/><rect x="283.04" y="331.44" width="8.52" height="8.44" fill="#c81c28"/><rect x="290.56" y="331.44" width="8.52" height="8.44" fill="#2e181a"/><rect x="298.08" y="331.44" width="8.52" height="8.44" fill="#c81c28"/><rect x="305.60" y="331.44" width="16.04" height="8.44" fill="#18a040"/><rect x="320.64" y="331.44" width="8.52" height="8.44" fill="#18241a"/><rect x="328.16" y="331.44" width="8.52" height="8.44" fill="#4c141a"/><rect x="335.68" y="331.44" width="8.52" height="8.44" fill="#18241a"/><rect x="343.20" y="331.44" width="15.04" height="8.44" fill="#18a040"/><rect x="268.00" y="338.88" width="8.52" height="8.44" fill="#a21822"/><rect x="275.52" y="338.88" width="8.52" height="8.44" fill="#c81c28"/><rect x="283.04" y="338.88" width="8.52" height="8.44" fill="#a21822"/><rect x="290.56" y="338.88" width="8.52" height="8.44" fill="#4c141a"/><rect x="298.08" y="338.88" width="8.52" height="8.44" fill="#2e181a"/><rect x="305.60" y="338.88" width="8.52" height="8.44" fill="#18241a"/><rect x="313.12" y="338.88" width="8.52" height="8.44" fill="#188a3a"/><rect x="320.64" y="338.88" width="16.04" height="8.44" fill="#101010"/><rect x="335.68" y="338.88" width="8.52" height="8.44" fill="#18241a"/><rect x="343.20" y="338.88" width="15.04" height="8.44" fill="#18a040"/><rect x="268.00" y="346.32" width="8.52" height="8.44" fill="#2e181a"/><rect x="275.52" y="346.32" width="8.52" height="8.44" fill="#4c141a"/><rect x="283.04" y="346.32" width="8.52" height="8.44" fill="#6c141c"/><rect x="290.56" y="346.32" width="8.52" height="8.44" fill="#2e181a"/><rect x="298.08" y="346.32" width="8.52" height="8.44" fill="#a21822"/><rect x="305.60" y="346.32" width="8.52" height="8.44" fill="#18241a"/><rect x="313.12" y="346.32" width="8.52" height="8.44" fill="#188a3a"/><rect x="320.64" y="346.32" width="8.52" height="8.44" fill="#13391d"/><rect x="328.16" y="346.32" width="23.56" height="8.44" fill="#18a040"/><rect x="350.72" y="346.32" width="7.52" height="8.44" fill="#188a3a"/><rect x="268.00" y="353.76" width="8.52" height="8.44" fill="#c81c28"/><rect x="275.52" y="353.76" width="8.52" height="8.44" fill="#e02030"/><rect x="283.04" y="353.76" width="8.52" height="8.44" fill="#a21822"/><rect x="290.56" y="353.76" width="8.52" height="8.44" fill="#2e181a"/><rect x="298.08" y="353.76" width="8.52" height="8.44" fill="#a0a0a0"/><rect x="305.60" y="353.76" width="8.52" height="8.44" fill="#18241a"/><rect x="313.12" y="353.76" width="8.52" height="8.44" fill="#101010"/><rect x="320.64" y="353.76" width="8.52" height="8.44" fill="#13391d"/><rect x="328.16" y="353.76" width="8.52" height="8.44" fill="#188a3a"/><rect x="335.68" y="353.76" width="16.04" height="8.44" fill="#a0a0a0"/><rect x="350.72" y="353.76" width="7.52" height="8.44" fill="#144e26"/><rect x="268.00" y="361.20" width="8.52" height="8.44" fill="#18241a"/><rect x="275.52" y="361.20" width="8.52" height="8.44" fill="#a21822"/><rect x="283.04" y="361.20" width="8.52" height="8.44" fill="#84161e"/><rect x="290.56" y="361.20" width="8.52" height="8.44" fill="#c81c28"/><rect x="298.08" y="361.20" width="8.52" height="8.44" fill="#a21822"/><rect x="305.60" y="361.20" width="23.56" height="8.44" fill="#188a3a"/><rect x="328.16" y="361.20" width="16.04" height="8.44" fill="#101010"/><rect x="343.20" y="361.20" width="8.52" height="8.44" fill="#84161e"/><rect x="350.72" y="361.20" width="7.52" height="8.44" fill="#166a2e"/><rect x="268.00" y="368.64" width="8.52" height="7.44" fill="#6c141c"/><rect x="275.52" y="368.64" width="16.04" height="7.44" fill="#4c141a"/><rect x="290.56" y="368.64" width="8.52" height="7.44" fill="#c81c28"/><rect x="298.08" y="368.64" width="8.52" height="7.44" fill="#18241a"/><rect x="305.60" y="368.64" width="8.52" height="7.44" fill="#166a2e"/><rect x="313.12" y="368.64" width="8.52" height="7.44" fill="#188a3a"/><rect x="320.64" y="368.64" width="8.52" height="7.44" fill="#18a040"/><rect x="328.16" y="368.64" width="8.52" height="7.44" fill="#13391d"/><rect x="335.68" y="368.64" width="16.04" height="7.44" fill="#101010"/><rect x="350.72" y="368.64" width="7.52" height="7.44" fill="#166a2e"/></g>
</g>
<g shape-rendering="crispEdges"><rect x="0.4" y="88.9" width="21.6" height="7.7" fill="#e0455c"/><rect x="21.8" y="88.9" width="15.9" height="7.7" fill="#f0a3c2"/><rect x="37.5" y="88.9" width="21.7" height="7.7" fill="#3c4c9c"/><rect x="59.0" y="88.9" width="16.0" height="7.7" fill="#62c2ea"/><rect x="74.8" y="88.9" width="15.7" height="7.7" fill="#12a044"/></g>
<g shape-rendering="crispEdges"><rect x="268.0" y="88.9" width="21.1" height="7.7" fill="#e0455c"/><rect x="288.9" y="88.9" width="16.5" height="7.7" fill="#f0a3c2"/><rect x="305.2" y="88.9" width="21.0" height="7.7" fill="#3c4c9c"/><rect x="326.0" y="88.9" width="16.8" height="7.7" fill="#62c2ea"/><rect x="342.6" y="88.9" width="15.6" height="7.7" fill="#12a044"/></g>
<g><polyline points="10.4,86.2 10.4,83.6 17.9,83.6 17.9,86.2" fill="none" stroke="#d64e5e" stroke-width="1.1"/>
<polyline points="2.9,86.2 2.9,80.4 14.1,80.4 14.1,83.6" fill="none" stroke="#d64e5e" stroke-width="1.1"/>
<polyline points="8.5,80.4 8.5,54.3 25.4,54.3 25.4,86.2" fill="none" stroke="#d64e5e" stroke-width="1.1"/>
<polyline points="17.0,54.3 17.0,42.1 32.9,42.1 32.9,86.2" fill="none" stroke="#d64e5e" stroke-width="1.1"/>
<polyline points="24.9,42.1 24.9,15.8 47.0,15.8" fill="none" stroke="#d64e5e" stroke-width="1.1"/>
<polyline points="47.0,15.8 68.5,15.8 68.5,35.7" fill="none" stroke="#3a4280" stroke-width="1.1"/>
<polyline points="47.9,86.2 47.9,83.6 55.4,83.6 55.4,86.2" fill="none" stroke="#3a4280" stroke-width="1.1"/>
<polyline points="40.4,86.2 40.4,80.4 51.6,80.4 51.6,83.6" fill="none" stroke="#3a4280" stroke-width="1.1"/>
<polyline points="62.9,86.2 62.9,65.7 70.4,65.7 70.4,86.2" fill="none" stroke="#3a4280" stroke-width="1.1"/>
<polyline points="46.0,80.4 46.0,54.3 66.7,54.3 66.7,65.7" fill="none" stroke="#3a4280" stroke-width="1.1"/>
<polyline points="56.3,54.3 56.3,35.7 68.5,35.7" fill="none" stroke="#3a4280" stroke-width="1.1"/>
<polyline points="77.9,86.2 77.9,65.7 85.4,65.7 85.4,86.2" fill="none" stroke="#36a05e" stroke-width="1.1"/>
<polyline points="68.5,35.7 81.7,35.7 81.7,65.7" fill="none" stroke="#36a05e" stroke-width="1.1"/></g>
<rect x="104.3" y="24.6" width="7.5" height="7.3" fill="#e0455c"/><text class="g" transform="translate(116.5 30.90) rotate(0.03)">Spleen</text><text class="g" transform="translate(141.7 30.90) rotate(0.03)">IgD+CD27+</text>
<rect x="104.3" y="34.2" width="7.5" height="7.3" fill="#f0a3c2"/><text class="g" transform="translate(116.5 40.45) rotate(0.03)">Blood</text><text class="g" transform="translate(141.7 40.45) rotate(0.03)">IgD+CD27+</text>
<rect x="104.3" y="43.7" width="7.5" height="7.3" fill="#3c4c9c"/><text class="g" transform="translate(116.5 50.00) rotate(0.03)">Spleen</text><text class="g" transform="translate(141.7 50.00) rotate(0.03)">IgD-CD27+</text>
<rect x="104.3" y="53.2" width="7.5" height="7.3" fill="#62c2ea"/><text class="g" transform="translate(116.5 59.55) rotate(0.03)">Blood</text><text class="g" transform="translate(141.7 59.55) rotate(0.03)">IgD-CD27+</text>
<rect x="104.3" y="62.8" width="7.5" height="7.3" fill="#12a044"/><text class="g" transform="translate(116.5 69.10) rotate(0.03)">Blood</text><text class="g" transform="translate(141.7 69.10) rotate(0.03)">IgD+CD27-</text>
<text class="p" transform="translate(0.7 12.3) scale(1.22 1)">A</text>
<text class="p" transform="translate(266.8 12.4) scale(1.2 1)">B</text>
<text class="l" transform="translate(98.0 106.52) rotate(0.03)" xml:space="preserve">Immunoglobulin M</text>
<text class="l" transform="translate(98.0 113.98) rotate(0.03)" xml:space="preserve">IL-6</text>
<text class="l" transform="translate(98.0 121.44) rotate(0.03)" xml:space="preserve">Src-like adapter protein</text>
<text class="l" transform="translate(98.0 128.90) rotate(0.03)" xml:space="preserve">Histone 2A-like protein H2A/l</text>
<text class="l" transform="translate(98.0 136.36) rotate(0.03)" xml:space="preserve">Activation-induced C-type lectin</text>
<text class="l" transform="translate(98.0 143.82) rotate(0.03)" xml:space="preserve">OX40 ligand</text>
<text class="l" transform="translate(98.0 151.28) rotate(0.03)" xml:space="preserve">Biliary glycoprotein</text>
<text class="l" transform="translate(98.0 158.74) rotate(0.03)" xml:space="preserve">MIP-1 beta</text>
<text class="l" transform="translate(98.0 166.20) rotate(0.03)" xml:space="preserve">CD1D</text>
<text class="l" transform="translate(98.0 173.66) rotate(0.03)" xml:space="preserve">Leukemia associated gene 1</text>
<text class="l" transform="translate(98.0 181.12) rotate(0.03)" xml:space="preserve">BAL short form</text>
<text class="l" transform="translate(98.0 188.58) rotate(0.03)" xml:space="preserve">IMAGE:1269467</text>
<text class="l" transform="translate(98.0 196.04) rotate(0.03)" xml:space="preserve">Synaptotagmin-like 2</text>
<text class="l" transform="translate(98.0 203.50) rotate(0.03)" xml:space="preserve">Interferon-induced 17 KD</text>
<text class="l" transform="translate(98.0 210.96) rotate(0.03)" xml:space="preserve">IMAGE:2116726</text>
<text class="l" transform="translate(98.0 218.42) rotate(0.03)" xml:space="preserve">SPAP1</text>
<text class="l" transform="translate(98.0 225.88) rotate(0.03)" xml:space="preserve">Cathepsin B</text>
<text class="l" transform="translate(98.0 233.34) rotate(0.03)" xml:space="preserve">Mitogen-activated protein kinase 1</text>
<text class="l" transform="translate(98.0 240.80) rotate(0.03)" xml:space="preserve">Interferon-induced  guanylate-binding protein 2</text>
<text class="l" transform="translate(98.0 248.26) rotate(0.03)" xml:space="preserve">IMAGE:1318692</text>
<text class="l" transform="translate(98.0 255.72) rotate(0.03)" xml:space="preserve">Leptin receptor overlapping transcript-like 1</text>
<text class="l" transform="translate(98.0 263.18) rotate(0.03)" xml:space="preserve">2&#x27;,5&#x27;-oligoadenylate synthetase</text>
<text class="l" transform="translate(98.0 270.64) rotate(0.03)" xml:space="preserve">INM04</text>
<text class="l" transform="translate(98.0 278.10) rotate(0.03)" xml:space="preserve">Caspase-4</text>
<text class="l" transform="translate(98.0 285.56) rotate(0.03)" xml:space="preserve">Glutathione peroxidase 6</text>
<text class="l" transform="translate(98.0 293.02) rotate(0.03)" xml:space="preserve">Choline/ethanolamine phosphotransferase</text>
<text class="l" transform="translate(98.0 300.48) rotate(0.03)" xml:space="preserve">CIITA-8</text>
<text class="l" transform="translate(98.0 307.94) rotate(0.03)" xml:space="preserve">Interferon-induced protein 44</text>
<text class="l" transform="translate(98.0 315.40) rotate(0.03)" xml:space="preserve">ISGF3 gamma</text>
<text class="l" transform="translate(98.0 322.86) rotate(0.03)" xml:space="preserve">Interferon-induced 56-KDa protein</text>
<text class="l" transform="translate(98.0 330.32) rotate(0.03)" xml:space="preserve">Protein tyrosine phosphatase</text>
<text class="l" transform="translate(98.0 337.78) rotate(0.03)" xml:space="preserve">Thioredoxin-like protein p19</text>
<text class="l" transform="translate(98.0 345.24) rotate(0.03)" xml:space="preserve">IL-7</text>
<text class="l" transform="translate(98.0 352.70) rotate(0.03)" xml:space="preserve">BCL-2</text>
<text class="l" transform="translate(98.0 360.16) rotate(0.03)" xml:space="preserve">IMAGE:824729</text>
<text class="l" transform="translate(98.0 367.62) rotate(0.03)" xml:space="preserve">apolipoprotein L</text>
<text class="l" transform="translate(98.0 375.08) rotate(0.03)" xml:space="preserve">Zinc finger protein 255</text>
<text class="l" transform="translate(98.0 382.54) rotate(0.03)" xml:space="preserve">Insulin-like growth factor 2</text>
<text class="l" transform="translate(98.0 390.00) rotate(0.03)" xml:space="preserve">Integral membrane protein 2B</text>
<text class="l" transform="translate(98.0 397.46) rotate(0.03)" xml:space="preserve">Ribosomal protein L37</text>
<text class="l" transform="translate(98.0 404.92) rotate(0.03)" xml:space="preserve">Phosphorylase-kinase, beta</text>
<text class="l" transform="translate(98.0 412.38) rotate(0.03)" xml:space="preserve">Single stranded DNA binding protein 3</text>
<text class="l" transform="translate(98.0 419.84) rotate(0.03)" xml:space="preserve">ATRX</text>
<text class="l" transform="translate(98.0 427.30) rotate(0.03)" xml:space="preserve">Uridine monophosphate kinase</text>
<text class="l" transform="translate(98.0 434.76) rotate(0.03)" xml:space="preserve">IMAGE:686185</text>
<text class="l" transform="translate(98.0 442.22) rotate(0.03)" xml:space="preserve">CD6</text>
<text class="l" transform="translate(98.0 449.68) rotate(0.03)" xml:space="preserve">IMAGE:685602</text>
<text class="l" transform="translate(98.0 457.14) rotate(0.03)" xml:space="preserve">FLJ13334</text>
<text class="l" transform="translate(98.0 464.60) rotate(0.03)" xml:space="preserve">Phospholipase A2</text>
<text class="l" transform="translate(367.7 107.92) rotate(0.03)" xml:space="preserve">Immunoglobulin M</text>
<text class="l" transform="translate(367.7 115.37) rotate(0.03)" xml:space="preserve">BAL short form</text>
<text class="l" transform="translate(367.7 122.82) rotate(0.03)" xml:space="preserve">Leukemia associated gene 1</text>
<text class="l" transform="translate(367.7 130.27) rotate(0.03)" xml:space="preserve">Lipase A</text>
<text class="l" transform="translate(367.7 137.72) rotate(0.03)" xml:space="preserve">IMAGE:1269467</text>
<text class="l" transform="translate(367.7 145.17) rotate(0.03)" xml:space="preserve">Biliary glycoprotein</text>
<text class="l" transform="translate(367.7 152.62) rotate(0.03)" xml:space="preserve">CD1D</text>
<text class="l" transform="translate(367.7 160.07) rotate(0.03)" xml:space="preserve">Histone 2A-like protein</text>
<text class="l" transform="translate(367.7 167.52) rotate(0.03)" xml:space="preserve">Activation-induced C-type lectin</text>
<text class="l" transform="translate(367.7 174.97) rotate(0.03)" xml:space="preserve">IL-6</text>
<text class="l" transform="translate(367.7 182.42) rotate(0.03)" xml:space="preserve">Synaptotagmin-like 2</text>
<text class="l" transform="translate(367.7 189.87) rotate(0.03)" xml:space="preserve">Protein phosphatase 2, regulatory subunit B</text>
<text class="l" transform="translate(367.7 197.32) rotate(0.03)" xml:space="preserve">Cbl-b</text>
<text class="l" transform="translate(367.7 204.77) rotate(0.03)" xml:space="preserve">Src-like adapter protein</text>
<text class="l" transform="translate(367.7 212.22) rotate(0.03)" xml:space="preserve">tumor endothelial marker 6</text>
<text class="l" transform="translate(367.7 219.67) rotate(0.03)" xml:space="preserve">Prostaglandin-endoperoxide synthase 1</text>
<text class="l" transform="translate(367.7 227.12) rotate(0.03)" xml:space="preserve">Mitogen-activated protein kinase 1</text>
<text class="l" transform="translate(367.7 234.57) rotate(0.03)" xml:space="preserve">Immunoglobulin D</text>
<text class="l" transform="translate(367.7 242.02) rotate(0.03)" xml:space="preserve">WNT3 orthologue</text>
<text class="l" transform="translate(367.7 249.47) rotate(0.03)" xml:space="preserve">CD1C</text>
<text class="l" transform="translate(367.7 256.92) rotate(0.03)" xml:space="preserve">CD31</text>
<text class="l" transform="translate(367.7 264.37) rotate(0.03)" xml:space="preserve">IMAGE:814057</text>
<text class="l" transform="translate(367.7 271.82) rotate(0.03)" xml:space="preserve">Regulator of Fas-induced apoptosis</text>
<text class="l" transform="translate(367.7 279.27) rotate(0.03)" xml:space="preserve">Histone H2B</text>
<text class="l" transform="translate(367.7 286.72) rotate(0.03)" xml:space="preserve">CD44</text>
<text class="l" transform="translate(367.7 294.17) rotate(0.03)" xml:space="preserve">Fc receptor Like 3</text>
<text class="l" transform="translate(367.7 301.62) rotate(0.03)" xml:space="preserve">SOCS-3</text>
<text class="l" transform="translate(367.7 309.07) rotate(0.03)" xml:space="preserve">Interferon-induced protein 1-8D</text>
<text class="l" transform="translate(367.7 316.52) rotate(0.03)" xml:space="preserve">ADP-ribosylation factor binding protein GGA1</text>
<text class="l" transform="translate(367.7 323.97) rotate(0.03)" xml:space="preserve">Interferon-induced guanylate-binding protein 2</text>
<text class="l" transform="translate(367.7 331.42) rotate(0.03)" xml:space="preserve">SPAP1</text>
<text class="l" transform="translate(367.7 338.87) rotate(0.03)" xml:space="preserve">Caspase-1</text>
<text class="l" transform="translate(367.7 346.32) rotate(0.03)" xml:space="preserve">Interferon-induced 56-KD protein</text>
<text class="l" transform="translate(367.7 353.77) rotate(0.03)" xml:space="preserve">FREB</text>
<text class="l" transform="translate(367.7 361.22) rotate(0.03)" xml:space="preserve">MIP-1 beta</text>
<text class="l" transform="translate(367.7 368.67) rotate(0.03)" xml:space="preserve">ADP-ribosylation factor-like 7</text>
<text class="l" transform="translate(367.7 376.12) rotate(0.03)" xml:space="preserve">Interferon-induced 17kD protein</text>
<text class="g" style="font-size:7.3px" transform="translate(280.5 85.8) rotate(-47.2)">Spleen IgD+CD27+</text>
<text class="g" style="font-size:7.3px" transform="translate(299.0 85.8) rotate(-47.2)">Blood IgD+CD27+</text>
<text class="g" style="font-size:7.3px" transform="translate(317.1 86.3) rotate(-47.2)">Spleen IgD-CD27+</text>
<text class="g" style="font-size:7.3px" transform="translate(335.7 86.3) rotate(-47.2)">Blood IgD-CD27+</text>
<text class="g" style="font-size:7.3px" transform="translate(351.4 86.3) rotate(-47.2)">Blood IgD+CD27-</text>
<rect x="307.6" y="413.3" width="159.7" height="7" fill="url(#sc)"/>
<text class="s" transform="translate(300.5 411.4) rotate(0.03)">0.25</text><text class="s" transform="translate(379.9 411.4) rotate(0.03)">1.00</text><text class="s" transform="translate(457.1 411.4) rotate(0.03)">4.00</text>
</svg>
</body></html>
